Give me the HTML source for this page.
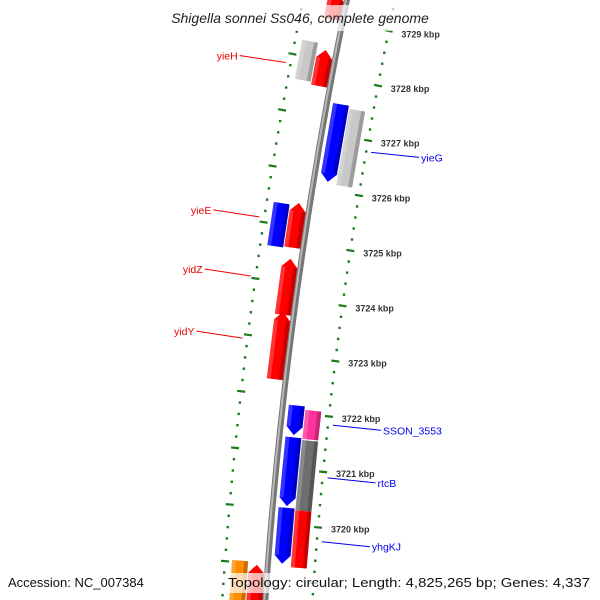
<!DOCTYPE html>
<html><head><meta charset="utf-8"><style>
html,body{margin:0;padding:0;background:#fff;width:600px;height:600px;overflow:hidden;}
svg{display:block;font-family:"Liberation Sans",sans-serif;overflow:hidden;}
</style></head><body>
<svg id="map" width="600" height="600" viewBox="0 0 600 600">
<g id="rings"></g>
<g id="backbone"></g>
<g id="feats"></g>
<g id="labels"></g>
<g id="ticklabels"></g>
<rect x="155" y="5" width="290" height="26" fill="#fff" opacity="0.7"/>
<text x="300" y="23" text-anchor="middle" font-size="14" font-style="italic" fill="#222">Shigella sonnei Ss046, complete genome</text>
<text x="8" y="587" font-size="13" fill="#111">Accession: NC_007384</text>
<rect x="226" y="573" width="368" height="20" fill="#fff" opacity="0.7"/>
<text x="228" y="587" font-size="13" fill="#111" textLength="362" lengthAdjust="spacingAndGlyphs">Topology: circular; Length: 4,825,265 bp; Genes: 4,337</text>
</svg>
<script>
// Feature data (kbp)
const featStart = [3729.75, 3729.8, 3729.0, 3727.8, 3727.85, 3726.15, 3726.12, 3724.9, 3724.88, 3723.7, 3722.55, 3721.6, 3721.55, 3720.33, 3720.27, 3719.3, 3719.25, 3718.4, 3718.4];
const featEnd   = [3731.0, 3731.0, 3729.5, 3728.45, 3728.55, 3727.55, 3727.5, 3725.7, 3725.65, 3724.7, 3723.75, 3722.13, 3722.07, 3721.56, 3721.53, 3720.3, 3720.27, 3719.3, 3719.25];
const featRing  = ["L2","L1","L1","L1","L2","R1","R2","L1","L2","L1","L1","R1","R2","R1","R2","R1","R2","L2","L1"];
const featColor = ["#ff3399","#ff0000","#ff0000","#ff0000","#c8c8c8","#0000ff","#c8c8c8","#ff0000","#0000ff","#ff0000","#ff0000","#0000ff","#ff3399","#0000ff","#6e6e6e","#0000ff","#ff0000","#ff8c00","#ff0000"];
const featArrow = [0,1,1,1,0,-1,0,1,0,1,1,-1,0,-1,0,-1,0,0,1];
// Gene labels
const labelNames = ["yieH","yieG","yieE","yidZ","yidY","SSON_3553","rtcB","yhgKJ"];
const labelPos   = [3728.1, 3726.8, 3725.35, 3724.3, 3723.2, 3721.85, 3720.9, 3719.75];
const labelSide  = ["L","R","L","L","L","R","R","R"];
// Tick labels
const tickValues = [3720,3721,3722,3723,3724,3725,3726,3727,3728,3729];

const CX=4755, CY=905, R0=4500, PHI0=0.0849, K=0.01252;
const ringOff={L1:11,L2:28,R1:-14,R2:-31};
const NS='http://www.w3.org/2000/svg';
function pt(s,r){const p=PHI0+(s-3720)*K;return [CX-r*Math.cos(p), CY-r*Math.sin(p)];}
function mk(tag,attrs,parent){const e=document.createElementNS(NS,tag);for(const k in attrs)e.setAttribute(k,attrs[k]);parent.appendChild(e);return e;}
function f(p){return p[0].toFixed(1)+','+p[1].toFixed(1);}

// backbone
const bb=document.getElementById('backbone');
let pts=[];for(let s=3718;s<=3730.5;s+=0.25)pts.push(f(pt(s,R0)));
let bl=mk('polyline',{points:pts.join(' '),fill:'none',stroke:'#777','stroke-width':6},bb);


pts=[];for(let s=3718;s<=3730.5;s+=0.25)pts.push(f(pt(s,R0+1)));
let bl2=mk('polyline',{points:pts.join(' '),fill:'none',stroke:'#b8b8b8','stroke-width':2},bb);



// tick rings
const rg=document.getElementById('rings');
function ring(r,offset,dashDir){
  for(let i=-20;i<=80;i++){
    const s=3717+i*0.2+ (offset%0.2);
    const m=((s-offset)%1+1)%1;
    const isMajor=m<0.01||Math.abs(m-1)<0.01;
    const a=pt(s,r);
    if(a[1]<2||a[1]>598)continue;
    let e;
    if(isMajor){const b=pt(s,r+dashDir*4),c=pt(s,r-dashDir*4);
      e=mk('line',{x1:b[0],y1:b[1],x2:c[0],y2:c[1],stroke:'#1a7a1a','stroke-width':2.2},rg);
      }
    else{e=mk('rect',{x:a[0]-1.2,y:a[1]-1.2,width:2.4,height:2.4,fill:'#1a7a1a'},rg);
      }
    
  }
}
ring(R0+43,0.27,1);
ring(R0-47,0,1);

// features
const fg=document.getElementById('feats');
for(let i=0;i<featStart.length;i++){
  const r=R0+ringOff[featRing[i]], w=8, head=0.15;
  const s1=featStart[i], s2=featEnd[i], dir=featArrow[i];
  const P=[];
  let a1=s1,a2=s2;
  if(dir===1)a2=s2-head; if(dir===-1)a1=s1+head;
  P.push(pt(a1,r+w),pt(a2,r+w));
  if(dir===1)P.push(pt(s2,r));
  P.push(pt(a2,r-w),pt(a1,r-w));
  if(dir===-1)P.push(pt(s1,r));
  const poly=mk('polygon',{points:P.map(f).join(' '),fill:featColor[i]},fg);
  
  
  const Q=[pt(a1,r-w+4),pt(a2,r-w+4),pt(a2,r-w),pt(a1,r-w)];
  const sh=mk('polygon',{points:Q.map(f).join(' '),fill:'#000',opacity:0.22},fg);
  
  
  const H=[pt(a1,r+w),pt(a2,r+w),pt(a2,r+w-4),pt(a1,r+w-4)];
  const hl=mk('polygon',{points:H.map(f).join(' '),fill:'#fff',opacity:0.2},fg);
  
  
}

// gene labels
const lg=document.getElementById('labels');
for(let i=0;i<labelNames.length;i++){
  const left=labelSide[i]==='L';
  const col=left?'#ee0000':'#0000ee';
  const a=pt(labelPos[i], left?R0+48:R0-52);
  const b=[a[0]+(left?-46:48), a[1]-(left?7:-5)];
  const ln=mk('line',{x1:a[0],y1:a[1],x2:b[0],y2:b[1],stroke:col,'stroke-width':1},lg);
  
  
  const t=mk('text',{x:b[0]+(left?-2:2),y:b[1]+4,'font-size':10.5,fill:col,'text-anchor':left?'end':'start'},lg);
  t.textContent=labelNames[i];
  
  
}

// tick labels
const tg=document.getElementById('ticklabels');
for(let i=0;i<tickValues.length;i++){
  const a=pt(tickValues[i],R0-60);
  const t=mk('text',{x:a[0],y:a[1]+4,'font-size':9,fill:'#333','font-weight':'bold'},tg);
  t.textContent=tickValues[i]+' kbp';
  
  
}
</script>
</body></html>
